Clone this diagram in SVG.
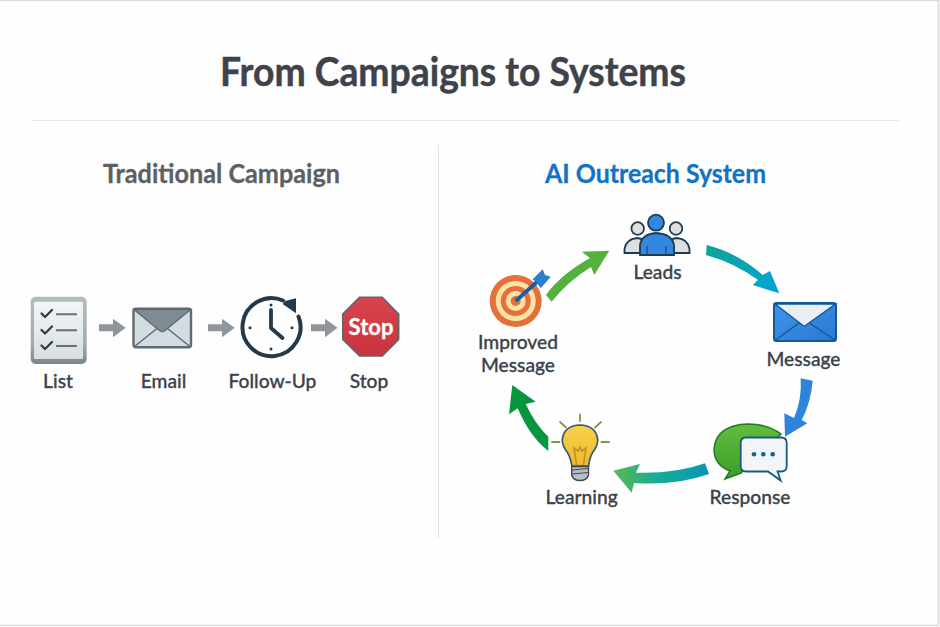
<svg xmlns="http://www.w3.org/2000/svg" width="940" height="627" viewBox="0 0 940 627">
<style>
text{font-family:"Lato","Liberation Sans",sans-serif;text-anchor:middle}
.title{font-size:41px;font-weight:700;fill:#3e434b;stroke:#3e434b;stroke-width:.5}
.head{font-size:27px;font-weight:700;stroke-width:.3}
.lbl{font-size:19.2px;font-weight:500;fill:#3c424b;stroke:#3c424b;stroke-width:.3}
.flow{fill:#8f969b}
.ck{fill:none;stroke:#2b3a46;stroke-width:2.2;stroke-linecap:round;stroke-linejoin:round}
.ln{fill:none;stroke:#66727a;stroke-width:2}
.ray{stroke:#7e9a3a;stroke-width:1.8;stroke-linecap:round}
.person{stroke:#1f3a55;stroke-width:1.8}
</style>
<defs>
<linearGradient id="g-list" x1="0" y1="0" x2="0" y2="1"><stop offset="0" stop-color="#b5bcc0"/><stop offset="0.7" stop-color="#a3abb0"/><stop offset="1" stop-color="#7b858b"/></linearGradient>
<linearGradient id="g-paper" x1="0" y1="0" x2="0" y2="1"><stop offset="0" stop-color="#f2f5f6"/><stop offset="1" stop-color="#d8dee1"/></linearGradient>
<linearGradient id="g-teal" gradientUnits="userSpaceOnUse" x1="706" y1="248" x2="779" y2="293"><stop offset="0" stop-color="#0fa396"/><stop offset="1" stop-color="#00a5d6"/></linearGradient>
<linearGradient id="g-resp" gradientUnits="userSpaceOnUse" x1="709" y1="470" x2="613" y2="472"><stop offset="0" stop-color="#0a95b5"/><stop offset="0.55" stop-color="#17ad98"/><stop offset="1" stop-color="#5cb84e"/></linearGradient>
<linearGradient id="g-bulb" x1="0" y1="0" x2="0" y2="1"><stop offset="0" stop-color="#f7d24a"/><stop offset="1" stop-color="#eeb92f"/></linearGradient>
<linearGradient id="g-stop" x1="0" y1="0" x2="0" y2="1"><stop offset="0" stop-color="#d9434d"/><stop offset="1" stop-color="#c9343c"/></linearGradient>
<linearGradient id="g-bubble" x1="0" y1="0" x2="0" y2="1"><stop offset="0" stop-color="#63bd3c"/><stop offset="1" stop-color="#3b9e2a"/></linearGradient>
<linearGradient id="g-mail" x1="0" y1="0" x2="1" y2="1"><stop offset="0" stop-color="#3f95e8"/><stop offset="1" stop-color="#2a78d2"/></linearGradient>
</defs>

<rect width="940" height="627" fill="#fefefe"/>
<path d="M0 .5H938.5V625.5H0" fill="none" stroke="#d9d9d9" stroke-width="1.6"/>

<g id="header">
<text class="title" x="453" y="86" textLength="466" lengthAdjust="spacingAndGlyphs">From Campaigns to Systems</text>
<line x1="32" y1="120.5" x2="899" y2="120.5" stroke="#e8e8e8" stroke-width="1.2"/>
<line x1="438.5" y1="145" x2="438.5" y2="538" stroke="#e4e4e4" stroke-width="1.2"/>
<text class="head" x="221.5" y="183" fill="#5c6065" stroke="#5c6065" textLength="237" lengthAdjust="spacingAndGlyphs">Traditional Campaign</text>
<text class="head" x="655.5" y="183" fill="#1273c4" stroke="#1273c4" textLength="221" lengthAdjust="spacingAndGlyphs">AI Outreach System</text>
</g>

<g id="connectors">
<path class="flow" d="M99 324.2H113V318.7L125.7 327.7L113 337.3V331.2H99Z"/>
<path class="flow" d="M208 324.2H222V318.7L234.7 327.7L222 337.3V331.2H208Z"/>
<path class="flow" d="M311 324.2H325V318.7L337.5 327.7L325 337.3V331.2H311Z"/>
<path d="M546 295Q560 275 590 258L581.7 251.7L609.3 250.7L594.3 275L591 267Q568 281 551.7 301.7Z" fill="#55b13c"/>
<path d="M706.7 245Q738 253 762.7 275L770 271L779.3 293.3L752.7 285L758 280Q735 263 706 255Z" fill="url(#g-teal)"/>
<path d="M800.7 378.3L812.7 380.7Q811 402 801.7 420L807.3 423.3L785 436.7L784.3 413.3L794 418Q802 400 800.7 378.3Z" fill="#2d84db"/>
<path d="M705 463.3L709 474Q675 486 634 483L631.7 492.7L613.3 470.7L640 464L636 472.7Q675 474 705 463.3Z" fill="url(#g-resp)"/>
<path d="M548.3 436.7V451Q530 437 517.7 408.3L509 414.3L512.3 385L535.7 401.7L525.7 404Q535 424 548.3 436.7Z" fill="#07953f"/>
</g>

<g id="node-list">
<rect x="30.7" y="296.7" width="56" height="67.3" rx="5" fill="url(#g-list)"/>
<rect x="34" y="301.7" width="49" height="57.3" rx="1.5" fill="url(#g-paper)"/>
<path class="ck" d="M41.5 313.5l3.5 3.5 7-7M41.5 330l3.5 3.5 7-7M41.5 345.5l3.5 3.5 7-7"/>
<path class="ln" d="M56 314.3H77M56 330.3H77M56 346H77"/>
<text class="lbl" x="58" y="387.5">List</text>
</g>

<g id="node-email">
<rect x="133.5" y="308.7" width="57.5" height="38.5" rx="2.5" fill="#d3dde1" stroke="#5f6c75" stroke-width="2.4"/>
<path d="M134 309.5H190.5L165 330.5Q162.3 332.7 159.5 330.5Z" fill="#7f8c93" stroke="#5f6c75" stroke-width="1.5"/>
<path d="M134.5 346.5L157 328.5M190 346.5L167.5 328.5" stroke="#5f6c75" stroke-width="1.6" fill="none"/>
<text class="lbl" x="163.5" y="387.5">Email</text>
</g>

<g id="node-followup">
<path d="M283 300.5A29 29 0 1 0 298.5 316.5" fill="none" stroke="#24394a" stroke-width="4" stroke-linecap="round"/>
<path d="M296 298.3V313.3L282.7 304L285 301Z" fill="#24394a"/>
<path d="M271 310V328L282.5 338" fill="none" stroke="#24394a" stroke-width="3.8" stroke-linecap="round" stroke-linejoin="round"/>
<g fill="#24394a"><circle cx="271" cy="305" r="1.5"/><circle cx="250" cy="327.7" r="1.5"/><circle cx="292" cy="327.7" r="1.5"/><circle cx="271" cy="349" r="1.5"/></g>
<text class="lbl" x="272.5" y="387.5">Follow-Up</text>
</g>

<g id="node-stop">
<path d="M359.5 297.3H382.3L398.7 314V339.5L382.3 356H359.5L342.7 339.5V314Z" fill="url(#g-stop)" stroke="#5d666c" stroke-width="1.5"/>
<text x="371" y="335" font-size="22" font-weight="700" fill="#fff" stroke="#fff" stroke-width=".3">Stop</text>
<text class="lbl" x="369" y="387.5">Stop</text>
</g>

<g id="node-leads">
<circle cx="637.7" cy="228.5" r="6.3" fill="#e0e0de" class="person"/>
<circle cx="676" cy="228.5" r="6.3" fill="#e0e0de" class="person"/>
<path class="person" d="M624.5 253V249Q626 239 637 238Q645 239 648 245V253Z" fill="#dddedd"/>
<path class="person" d="M689.5 253V249Q688 239 677 238Q669 239 666 245V253Z" fill="#dddedd"/>
<circle cx="656" cy="222.7" r="8" fill="#3288e0" class="person"/>
<path class="person" d="M640 255V245Q642 234 656 233Q672 234 674 245V255Z" fill="#3288e0"/>
<path d="M647 246V255M666 246V255" stroke="#1f3a55" stroke-width="1" fill="none"/>
<text class="lbl" x="657.5" y="279">Leads</text>
</g>

<g id="node-message">
<rect x="774" y="303" width="62" height="38" rx="2.5" fill="url(#g-mail)" stroke="#12589f" stroke-width="2"/>
<path d="M775 304H835.5L805.5 325.5Q804.3 326.5 803 325.5Z" fill="#e9eff2" stroke="#12589f" stroke-width="1.5"/>
<path d="M775 340.5L799 323M835.5 340.5L809.5 323" fill="none" stroke="#12589f" stroke-width="1.5"/>
<text class="lbl" x="803.5" y="365.5">Message</text>
</g>

<g id="node-response">
<path d="M781 434Q768 424 748 424Q716 425 714 449Q714 465 730 471L725 479L741 473Z" fill="url(#g-bubble)" stroke="#1e7d1e" stroke-width="1.5"/>
<path d="M746 437.5H781Q786.7 437.5 786.7 443V466Q786.7 471.5 781 471.5H777.5L780.7 480.5L768 471.5H746Q740.7 471.5 740.7 466V443Q740.7 437.5 746 437.5Z" fill="#f2f5f8" stroke="#1a5a80" stroke-width="1.8"/>
<g fill="#1d5f8c"><circle cx="754" cy="454.3" r="2.3"/><circle cx="763.3" cy="454.3" r="2.3"/><circle cx="772.7" cy="454.3" r="2.3"/></g>
<text class="lbl" x="750" y="503.5">Response</text>
</g>

<g id="node-learning">
<path class="ray" d="M580 414.5V421M560 422L566 427.5M601 422L595 427.5M552 442H559.5M601.5 442H609"/>
<path d="M572 466Q570 455 565 449Q561.5 443 562.5 438Q565 425.5 580 425Q595 425.5 597.5 438Q598.500 443 595 449Q590 455 588.5 466Z" fill="url(#g-bulb)" stroke="#3b5578" stroke-width="1.7"/>
<path d="M576.5 465L574 448L578 451L580 447L582 451L586 448L583.5 465" fill="none" stroke="#b99325" stroke-width="1.6"/>
<path d="M571.7 466.5H588.5V475Q587 480.5 580 480.5Q573 480.5 571.7 475Z" fill="#b9c0c3" stroke="#3d4a55" stroke-width="1.4"/>
<path d="M572 470L588 468.5M572 474L588 472.5" stroke="#3d4a55" stroke-width="1.2" fill="none"/>
<text class="lbl" x="581.7" y="503.5">Learning</text>
</g>

<g id="node-improved">
<circle cx="515.7" cy="301" r="26" fill="#e5703a"/>
<circle cx="515.7" cy="301" r="20" fill="#fbe3a8"/>
<circle cx="515.7" cy="301" r="15" fill="#e5703a"/>
<circle cx="515.7" cy="301" r="10" fill="#fbe3a8"/>
<circle cx="515.7" cy="301" r="5" fill="#e5703a"/>
<line x1="515.7" y1="301" x2="538" y2="281" stroke="#145fa8" stroke-width="3.8"/>
<path d="M532.7 279.3L542.7 269.3L545 275L550.7 276.700L540.7 288.3L537 283Z" fill="#2a7fd0"/>
<text class="lbl"><tspan x="518" y="349">Improved</tspan><tspan x="518" y="372">Message</tspan></text>
</g>
</svg>
